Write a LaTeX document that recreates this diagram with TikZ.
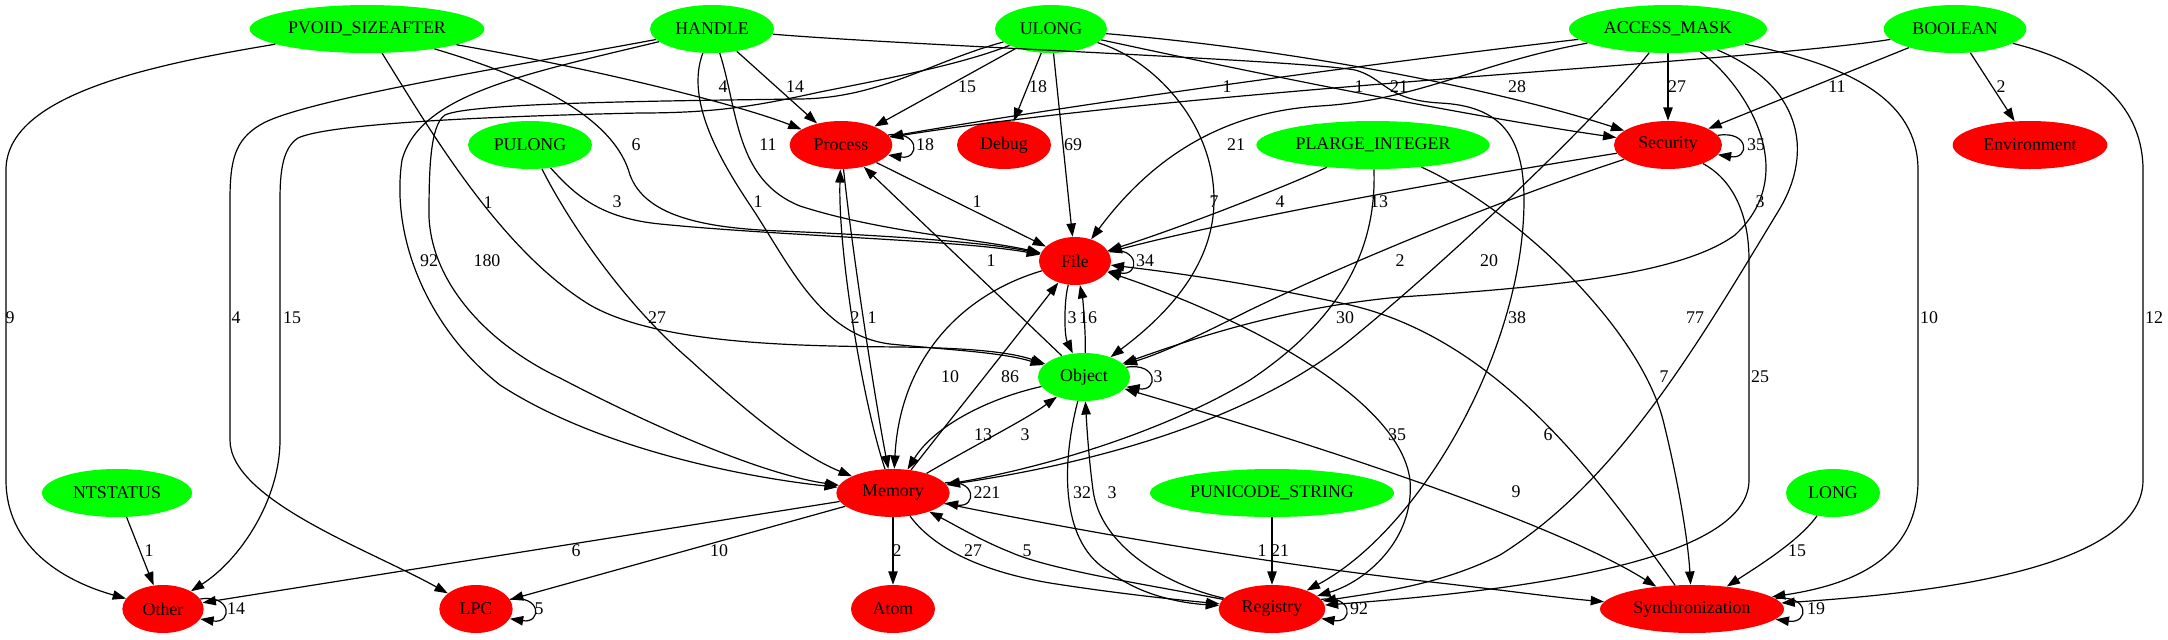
\documentclass[tikz,border=0pt]{standalone}
\usepackage{fontspec}
\setmainfont{Liberation Serif}
\usetikzlibrary{shapes.geometric,arrows.meta}
\definecolor{gvgreen}{RGB}{0,255,0}
\definecolor{gvred}{RGB}{255,0,0}
\tikzset{
  nd/.style={ellipse, draw=none, minimum height=36bp, inner sep=0pt, font=\fontsize{13.4bp}{16bp}\selectfont},
  gn/.style={nd, fill=gvgreen},
  rn/.style={nd, fill=gvred},
  e/.style={draw=black, line width=0.9bp, -{Triangle[length=10bp,width=7bp]}},
  eb/.style={draw=black, line width=0.9bp, {Triangle[length=10bp,width=7bp]}-{Triangle[length=10bp,width=7bp]}},
  lbl/.style={inner sep=0pt, font=\fontsize{13.4bp}{16bp}\selectfont},
}
\begin{document}
\begin{tikzpicture}[x=0.75bp, y=-0.75bp]
\useasboundingbox (0,0) rectangle (2168,639);
% nodes
\node[gn, minimum width=176bp] (pvoid) at (367,29) {PVOID\_SIZEAFTER};
\node[gn, minimum width=93bp] (handle) at (712,29) {HANDLE};
\node[gn, minimum width=84bp] (ulong) at (1051,29) {ULONG};
\node[gn, minimum width=148.5bp] (amask) at (1668,29) {ACCESS\_MASK};
\node[gn, minimum width=107bp] (boolean) at (1955,29) {BOOLEAN};
\node[gn, minimum width=93bp] (pulong) at (530,145) {PULONG};
\node[rn, minimum width=77bp] (process) at (841,145) {Process};
\node[rn, minimum width=70.5bp] (debug) at (1004,145) {Debug};
\node[gn, minimum width=175bp] (plarge) at (1373,145) {PLARGE\_INTEGER};
\node[rn, minimum width=81bp] (security) at (1668,145) {Security};
\node[rn, minimum width=116bp] (environment) at (2030,145) {Environment};
\node[rn, minimum width=54bp] (file) at (1075,261) {File};
\node[gn, minimum width=69bp] (object) at (1084,377) {Object};
\node[gn, minimum width=112.5bp] (ntstatus) at (117,493) {NTSTATUS};
\node[rn, minimum width=85bp] (memory) at (893,493) {Memory};
\node[gn, minimum width=183bp] (punicode) at (1272,493) {PUNICODE\_STRING};
\node[gn, minimum width=70.5bp] (long) at (1833,493) {LONG};
\node[rn, minimum width=61bp] (other) at (163,609) {Other};
\node[rn, minimum width=55bp] (lpc) at (476,609) {LPC};
\node[rn, minimum width=63bp] (atom) at (893,609) {Atom};
\node[rn, minimum width=80bp] (registry) at (1272,609) {Registry};
\node[rn, minimum width=138bp] (sync) at (1692,609) {Synchronization};

% PVOID_SIZEAFTER
\draw[e] (pvoid) .. controls (150,65) and (6,95) .. (6,170) -- (6,480) .. controls (6,545) and (60,580) .. (other);
\draw[e] (pvoid) .. controls (430,130) and (500,250) .. (590,305) .. controls (660,345) and (800,346) .. (900,347) .. controls (970,348) and (1010,352) .. (object);
\draw[e] (pvoid) .. controls (600,70) and (740,105) .. (process);
\draw[e] (pvoid) .. controls (540,80) and (615,120) .. (630,175) .. controls (645,215) and (700,228) .. (780,231) .. controls (900,236) and (990,243) .. (file);
% PULONG
\draw[e] (pulong) .. controls (575,195) and (600,218) .. (660,224) .. controls (780,236) and (960,240) .. (file);
\draw[e] (pulong) .. controls (565,215) and (620,300) .. (690,360) .. controls (750,415) and (800,455) .. (memory);
% HANDLE
\draw[e] (handle) -- (process);
\draw[e] (handle) .. controls (738,110) and (735,180) .. (800,206) .. controls (880,232) and (985,240) .. (file);
\draw[e] (handle) .. controls (685,100) and (720,160) .. (750,205) .. controls (790,265) and (820,335) .. (890,344) .. controls (950,350) and (1000,352) .. (object);
\draw[e] (handle) .. controls (520,65) and (300,100) .. (260,125) .. controls (235,140) and (230,160) .. (230,200) -- (230,440) .. controls (230,500) and (370,550) .. (lpc);
\draw[e] (handle) .. controls (520,75) and (420,95) .. (402,160) .. controls (390,240) and (430,330) .. (500,385) .. controls (600,450) and (750,478) .. (memory);
\draw[e] (handle) .. controls (900,45) and (1300,60) .. (1355,70) .. controls (1385,78) and (1385,100) .. (1440,103) .. controls (1500,106) and (1524,135) .. (1524,200) .. controls (1524,350) and (1420,530) .. (registry);
% ULONG
\draw[e] (ulong) .. controls (930,62) and (880,98) .. (800,99) .. controls (650,101) and (470,103) .. (445,115) .. controls (430,125) and (429,170) .. (429,217) .. controls (432,285) and (490,345) .. (560,378) .. controls (650,425) and (760,474) .. (memory);
\draw[e] (ulong) .. controls (960,65) and (880,80) .. (820,92) .. controls (760,105) and (720,113) .. (640,113) .. controls (500,116) and (330,123) .. (298,138) .. controls (283,148) and (280,170) .. (280,200) -- (280,440) .. controls (280,500) and (240,560) .. (other);
\draw[e] (ulong) -- (process);
\draw[e] (ulong) -- (debug);
\draw[e] (ulong) -- (file);
\draw[e] (ulong) .. controls (1150,58) and (1214,120) .. (1214,200) .. controls (1214,270) and (1160,320) .. (object);
\draw[e] (ulong) .. controls (1300,50) and (1500,90) .. (security);
\draw[e] (ulong) .. controls (1250,72) and (1460,115) .. (security);
% ACCESS_MASK
\draw[e] (amask) .. controls (1400,60) and (1100,100) .. (process);
\draw[e] (amask) .. controls (1480,62) and (1420,100) .. (1320,106) .. controls (1220,112) and (1150,160) .. (file);
\draw[e] (amask) -- (security);
\draw[e] (amask) .. controls (1600,115) and (1460,250) .. (1350,340) .. controls (1250,420) and (1100,462) .. (memory);
\draw[e] (amask) .. controls (1740,80) and (1805,170) .. (1735,235) .. controls (1680,275) and (1550,287) .. (1400,297) .. controls (1280,308) and (1190,340) .. (object);
\draw[e] (amask) .. controls (1800,85) and (1815,150) .. (1779,210) .. controls (1700,340) and (1620,480) .. (1500,555) .. controls (1440,585) and (1380,592) .. (registry);
\draw[e] (amask) .. controls (1850,65) and (1918,100) .. (1918,170) -- (1918,480) .. controls (1918,560) and (1850,585) .. (sync);
% BOOLEAN
\draw[e] (boolean) .. controls (1750,62) and (1200,88) .. (process);
\draw[e] (boolean) -- (security);
\draw[e] (boolean) -- (environment);
\draw[e] (boolean) .. controls (2100,65) and (2143,110) .. (2143,170) -- (2143,480) .. controls (2143,575) and (1900,595) .. (sync);
% PLARGE_INTEGER
\draw[e] (plarge) .. controls (1290,185) and (1180,228) .. (file);
\draw[e] (plarge) .. controls (1377,250) and (1340,320) .. (1250,380) .. controls (1150,440) and (1020,472) .. (memory);
\draw[e] (plarge) .. controls (1520,212) and (1640,330) .. (1663,420) .. controls (1678,480) and (1688,540) .. (sync);
% Security
\draw[e] (security) .. controls (1500,172) and (1250,215) .. (file);
\draw[e] (security) .. controls (1500,200) and (1350,262) .. (1250,310) .. controls (1200,335) and (1165,352) .. (object);
\draw[e] (security) .. controls (1730,178) and (1749,210) .. (1749,260) -- (1749,480) .. controls (1749,565) and (1500,592) .. (registry);
% Process / File / Object / Memory
\draw[e] (object) -- (process);
\draw[e] (process) -- (file);
\draw[e] (memory) .. controls (862,400) and (838,250) .. (process);
\draw[e] (process) .. controls (852,250) and (875,400) .. (memory);
\draw[e] (file) .. controls (960,295) and (900,360) .. (memory);
\draw[e] (memory) .. controls (950,420) and (1010,345) .. (file);
\draw[e] (object) .. controls (990,398) and (935,425) .. (memory);
\draw[e] (memory) .. controls (975,445) and (1025,420) .. (object);
\draw[e] (file) .. controls (1064,300) and (1064,335) .. (object);
\draw[e] (object) .. controls (1086,335) and (1083,300) .. (file);
\draw[e] (object) .. controls (1060,470) and (1062,545) .. (1110,572) .. controls (1140,595) and (1180,603) .. (registry);
\draw[e] (registry) .. controls (1165,585) and (1100,545) .. (1093,490) .. controls (1089,460) and (1087,430) .. (object);
\draw[eb] (file) .. controls (1250,320) and (1400,400) .. (1410,480) .. controls (1415,540) and (1365,582) .. (registry);
\draw[e] (sync) .. controls (1600,480) and (1500,340) .. (1350,305) .. controls (1250,283) and (1170,272) .. (file);
\draw[eb] (object) .. controls (1300,440) and (1550,520) .. (sync);
\draw[e] (memory) .. controls (1050,525) and (1250,562) .. (1440,583) .. controls (1510,591) and (1560,598) .. (sync);
\draw[e] (memory) -- (other);
\draw[e] (memory) -- (lpc);
\draw[e] (memory) -- (atom);
\draw[e] (memory) .. controls (935,550) and (985,572) .. (1050,583) .. controls (1120,594) and (1180,600) .. (registry);
\draw[e] (registry) .. controls (1150,585) and (1050,570) .. (1010,552) .. controls (980,540) and (955,525) .. (memory);
\draw[e] (punicode) -- (registry);
\draw[e] (long) .. controls (1800,540) and (1760,565) .. (sync);
\draw[e] (ntstatus) -- (other);
% self loops
\draw[e] (process.12) .. controls +(32,-5) and +(32,5) .. (process.-12);
\draw[e] (file.17) .. controls +(32,-5) and +(32,5) .. (file.-17);
\draw[e] (object.13) .. controls +(32,-5) and +(32,5) .. (object.-13);
\draw[e] (security.11.5) .. controls +(32,-5) and +(32,5) .. (security.-11.5);
\draw[e] (memory.11) .. controls +(32,-5) and +(32,5) .. (memory.-11);
\draw[e] (other.15) .. controls +(32,-5) and +(32,5) .. (other.-15);
\draw[e] (lpc.16.5) .. controls +(32,-5) and +(32,5) .. (lpc.-16.5);
\draw[e] (registry.11.5) .. controls +(32,-5) and +(32,5) .. (registry.-11.5);
\draw[e] (sync.7) .. controls +(34,-5) and +(34,5) .. (sync.-7);

% labels
\node[lbl] (l1) at (723,87) {4};
\node[lbl] (l2) at (795,87) {14};
\node[lbl] (l3) at (967,87) {15};
\node[lbl] (l4) at (1038,87) {18};
\node[lbl] (l5) at (1227,87) {1};
\node[lbl] (l6) at (1359,87) {1};
\node[lbl] (l7) at (1399,87) {21};
\node[lbl] (l8) at (1517,87) {28};
\node[lbl] (l9) at (1677,87) {27};
\node[lbl] (l10) at (1837,87) {11};
\node[lbl] (l11) at (2001,87) {2};
\node[lbl] (l12) at (636,145) {6};
\node[lbl] (l13) at (768,145) {11};
\node[lbl] (l14) at (925,145) {18};
\node[lbl] (l15) at (1073,145) {69};
\node[lbl] (l16) at (1236,145) {21};
\node[lbl] (l17) at (1756,145) {35};
\node[lbl] (l18) at (617,202) {3};
\node[lbl] (l19) at (488,203) {1};
\node[lbl] (l20) at (758,202) {1};
\node[lbl] (l21) at (977,202) {1};
\node[lbl] (l22) at (1214,202) {7};
\node[lbl] (l23) at (1280,202) {4};
\node[lbl] (l24) at (1379,202) {13};
\node[lbl] (l25) at (1760,202) {3};
\node[lbl] (l26) at (429,261) {92};
\node[lbl] (l27) at (487,261) {180};
\node[lbl] (l28) at (991,261) {1};
\node[lbl] (l29) at (1145,261) {34};
\node[lbl] (l30) at (1400,261) {2};
\node[lbl] (l31) at (1489,261) {20};
\node[lbl] (l32) at (10,318) {9};
\node[lbl] (l33) at (236,318) {4};
\node[lbl] (l34) at (292,318) {15};
\node[lbl] (l35) at (657,318) {27};
\node[lbl] (l36) at (855,318) {2};
\node[lbl] (l37) at (872,318) {1};
\node[lbl] (l38) at (1072,318) {3};
\node[lbl] (l39) at (1088,318) {16};
\node[lbl] (l40) at (1345,318) {30};
\node[lbl] (l41) at (1517,318) {38};
\node[lbl] (l42) at (1695,318) {77};
\node[lbl] (l43) at (1929,318) {10};
\node[lbl] (l44) at (2154,318) {12};
\node[lbl] (l45) at (950,377) {10};
\node[lbl] (l46) at (1010,377) {86};
\node[lbl] (l47) at (1158,377) {3};
\node[lbl] (l48) at (1664,377) {7};
\node[lbl] (l49) at (1760,377) {25};
\node[lbl] (l50) at (983,435) {13};
\node[lbl] (l51) at (1025,435) {3};
\node[lbl] (l52) at (1397,435) {35};
\node[lbl] (l53) at (1548,435) {6};
\node[lbl] (l54) at (987,493) {221};
\node[lbl] (l55) at (1082,493) {32};
\node[lbl] (l56) at (1112,493) {3};
\node[lbl] (l57) at (1516,492) {9};
\node[lbl] (l58) at (149,551) {1};
\node[lbl] (l59) at (576,551) {6};
\node[lbl] (l60) at (719,551) {10};
\node[lbl] (l61) at (897,551) {2};
\node[lbl] (l62) at (973,551) {27};
\node[lbl] (l63) at (1027,551) {5};
\node[lbl] (l64) at (1262,551) {1};
\node[lbl] (l65) at (1280,551) {21};
\node[lbl] (l66) at (1797,551) {15};
\node[lbl] (l67) at (236,609) {14};
\node[lbl] (l68) at (539,609) {5};
\node[lbl] (l69) at (1359,609) {92};
\node[lbl] (l70) at (1816,609) {19};
\end{tikzpicture}
\end{document}
